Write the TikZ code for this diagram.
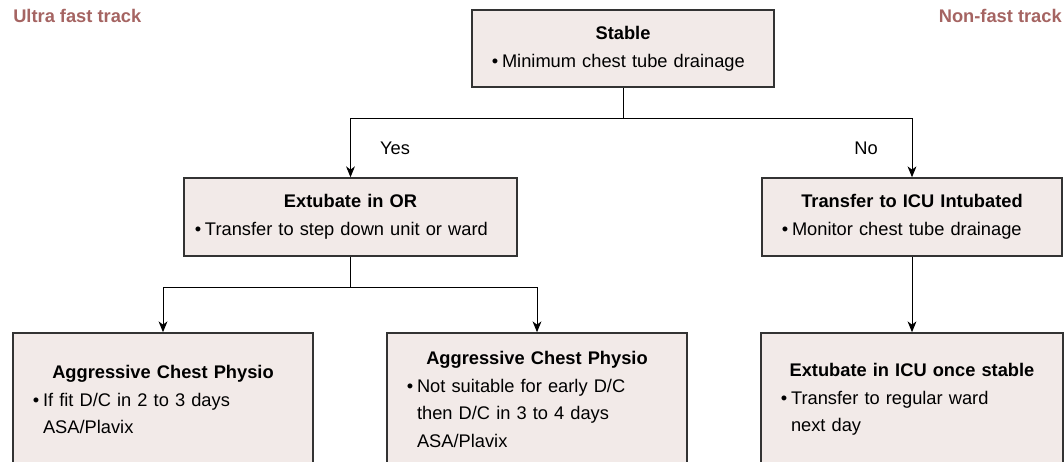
\documentclass[tikz,border=0pt]{standalone}
\usepackage{fontspec}
\setmainfont{Liberation Sans}
\usepackage{tikz}
\usetikzlibrary{arrows.meta}

\definecolor{boxfill}{HTML}{F2EAE8}
\definecolor{boxline}{HTML}{333333}
\definecolor{trackred}{HTML}{A56462}

\newcommand{\bul}{\makebox[0.55em][l]{\textbullet}}
\newcommand{\ind}{\hspace*{0.55em}}

\begin{document}
\begin{tikzpicture}[x=0.025cm, y=-0.025cm, >={Stealth[length=0.27cm, width=0.22cm, inset=0.08cm]}, line join=miter]

    % Styles of the boxes
    \tikzset{box/.style={draw=boxline, fill=boxfill, line width=1.1pt, rectangle, inner xsep=0.5cm, inner ysep=0pt,
                         align=left, font=\fontsize{13}{19.6}\selectfont},
             link/.style={draw=black, line width=0.7pt},
             track/.style={font=\fontsize{13}{16}\selectfont\bfseries, text=trackred, inner sep=0pt}}

    \useasboundingbox (0,0) rectangle (1064,461);
    \clip (0,0) rectangle (1064,461);

    % Track titles
    \node[track, anchor=west] (ultra) at (13,16) {Ultra fast track};
    \node[track, anchor=east] (nonfast) at (1062,16) {Non-fast track};

    % Main boxes
    \node[box, text width=6.55cm, minimum height=1.925cm] (stable) at (623,48.5)
        {{\centering\textbf{Stable}\par}\bul Minimum chest tube drainage};
    \node[box, inner xsep=0.275cm, text width=7.775cm, minimum height=1.95cm] (extor) at (350.5,217)
        {{\centering\textbf{Extubate in OR}\par}\bul Transfer to step down unit or ward};
    \node[box, text width=6.5cm, minimum height=1.95cm] (icu) at (912,217)
        {{\centering\textbf{Transfer to ICU Intubated}\par}\bul Monitor chest tube drainage};

    % Lower boxes (cut by the bottom edge)
    \node[box, text width=6.5cm, minimum height=3.325cm] (physioa) at (163,399.5)
        {{\centering\textbf{Aggressive Chest Physio}\par}\bul If fit D/C in 2 to 3 days\\\ind ASA/Plavix};
    \node[box, text width=6.5cm, minimum height=3.325cm] (physiob) at (537,399.5)
        {{\centering\textbf{Aggressive Chest Physio}\par}\bul Not suitable for early D/C\\\ind then D/C in 3 to 4 days\\\ind ASA/Plavix};
    \node[box, text width=6.55cm, minimum height=3.325cm] (extucu) at (912,399.5)
        {{\centering\textbf{Extubate in ICU once stable}\par}\bul Transfer to regular ward\\\ind next day};

    % Branch points
    \coordinate (split1) at (623,118);
    \coordinate (split2) at (350.5,287);

    % Connectors
    \draw[link] (stable.south) -- (split1);
    \draw[link, ->] (split1) -| (extor.north);
    \draw[link, ->] (split1) -| (icu.north);
    \draw[link] (extor.south) -- (split2);
    \draw[link, ->] (split2) -| (physioa.north);
    \draw[link, ->] (split2) -| (physiob.north);
    \draw[link, ->] (icu.south) -- (extucu.north);

    % Answers
    \node[font=\fontsize{13}{16}\selectfont] (yes) at (395,148) {Yes};
    \node[font=\fontsize{13}{16}\selectfont] (no) at (866,148) {No};

\end{tikzpicture}
\end{document}
